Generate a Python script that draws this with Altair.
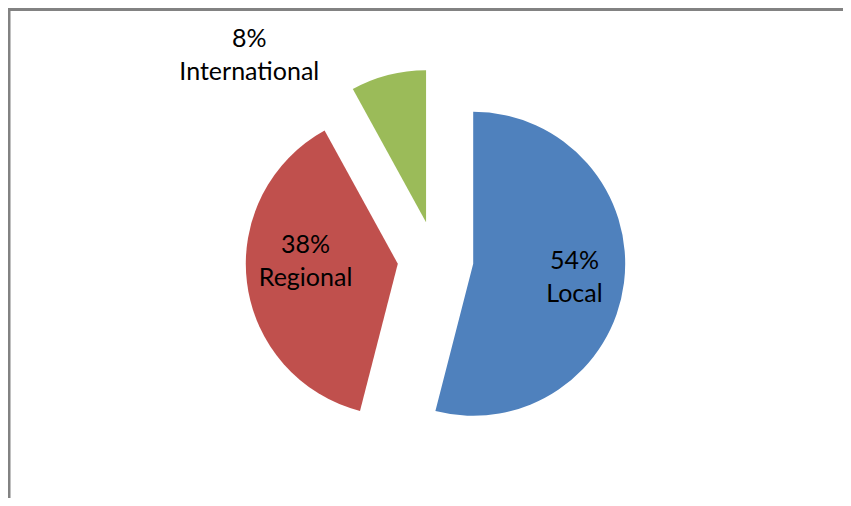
import altair as alt
import pandas as pd

# ---- data ----
categories = ["Local", "Regional", "International"]
shares = [54, 38, 8]
colors = ["#4F81BD", "#C0504D", "#9BBB59"]

# ---- layout / style ----
W, H = 835, 490
CX, CY = 427.5, 251      # pie centre inside the view
R = 152                  # pie radius
EXPLODE = 38             # explosion distance of every slice
FONT = "Lato"
FONT_SIZE = 25
LINE_H = 33
# label radius (from slice centre, along mid angle) and nudges
label_style = {
    "Local": dict(r=102, dx=0, dy=-16),
    "Regional": dict(r=93, dx=0, dy=-30),
    "International": dict(r=172, dx=-134, dy=-17),
}

total = sum(shares)
df = pd.DataFrame({
    "category": categories,
    "share": shares,
    "order": list(range(len(categories))),
    "label": [f"{s}%\n{c}" for s, c in zip(shares, categories)],
})

base = (
    alt.Chart(df)
    .transform_stack(stack="share", groupby=[], as_=["start", "end"],
                     sort=[alt.SortField("order", order="ascending")])
    .transform_calculate(mid=f"(datum.start + datum.end) / 2 / {total} * 2 * PI")
    .transform_calculate(
        cx=f"{CX} + {EXPLODE} * sin(datum.mid)",
        cy=f"{CY} - {EXPLODE} * cos(datum.mid)",
    )
)

arcs = base.mark_arc(radius=R).encode(
    theta=alt.Theta("start:Q", scale=alt.Scale(domain=[0, total]), stack=None),
    theta2="end:Q",
    x=alt.X("cx:Q", scale=None),
    y=alt.Y("cy:Q", scale=None),
    color=alt.Color("category:N", scale=alt.Scale(domain=categories, range=colors), legend=None),
)

texts = []
for cat in categories:
    st = label_style[cat]
    t = (
        base.transform_filter(alt.datum.category == cat)
        .transform_calculate(
            lx=f"datum.cx + {st['r']} * sin(datum.mid)",
            ly=f"datum.cy - {st['r']} * cos(datum.mid)",
        )
        .mark_text(font=FONT, fontSize=FONT_SIZE, lineBreak="\n", lineHeight=LINE_H,
                   align="center", baseline="middle", color="#000000",
                   dx=st["dx"], dy=st["dy"])
        .encode(x=alt.X("lx:Q", scale=None), y=alt.Y("ly:Q", scale=None), text="label:N")
    )
    texts.append(t)

frame_df = pd.DataFrame({"a": [0]})
left_rule = alt.Chart(frame_df).mark_rule(color="#828282", strokeWidth=3).encode(
    x=alt.value(1), y=alt.value(0), y2=alt.value(H))
top_rule = alt.Chart(frame_df).mark_rule(color="#828282", strokeWidth=3).encode(
    x=alt.value(0), x2=alt.value(W), y=alt.value(1.5))

chart = alt.layer(arcs, *texts, left_rule, top_rule).properties(
    width=W, height=H, padding=0, autosize="none"
).configure_view(stroke=None)

chart.save("out.html", embed_options={"renderer": "svg", "actions": False})
